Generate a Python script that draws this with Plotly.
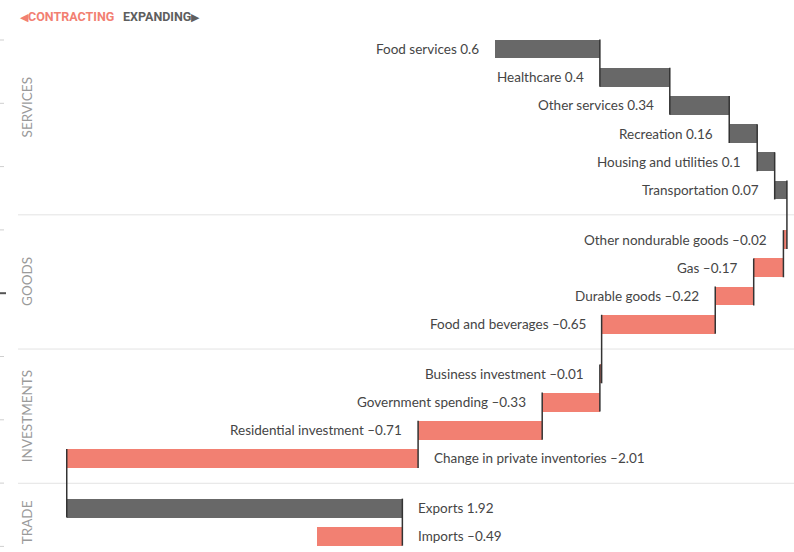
import plotly.graph_objects as go

# ---------------- data ----------------
categories = [
    "Food services", "Healthcare", "Other services", "Recreation",
    "Housing and utilities", "Transportation",
    "Other nondurable goods", "Gas", "Durable goods", "Food and beverages",
    "Business investment", "Government spending", "Residential investment",
    "Change in private inventories",
    "Exports", "Imports",
]
values = [0.6, 0.4, 0.34, 0.16, 0.1, 0.07,
          -0.02, -0.17, -0.22, -0.65,
          -0.01, -0.33, -0.71, -2.01,
          1.92, -0.49]
groups = ["SERVICES"] * 6 + ["GOODS"] * 4 + ["INVESTMENTS"] * 4 + ["TRADE"] * 2
label_side = ["left"] * 13 + ["right"] * 3
group_names = ["SERVICES", "GOODS", "INVESTMENTS", "TRADE"]

# ---------------- style ----------------
POS_COLOR = "#686868"
NEG_COLOR = "#f28072"
CONN_COLOR = "#333333"
TEXT_COLOR = "#454545"
GROUP_COLOR = "#9a9a9a"
SEP_COLOR = "#e3e3e3"
FONT = "Lato"
W, H = 794, 552
ROW_PX = 28.2
TOP_ROW_PX = 49
GAP = 1.76
BAR_W = 0.67
X0_PX = 495
X_SCALE = 174.8

# positions along y (row units) with gaps between groups
pos = []
p = 0.0
for i, g in enumerate(groups):
    if i > 0:
        p += GAP if g != groups[i - 1] else 1.0
    pos.append(p)

# cumulative bases
bases, ends = [], []
c = 0.0
for v in values:
    bases.append(c)
    c += v
    ends.append(c)

def fmt(v):
    s = f"{abs(v):g}"
    return ("–" + s) if v < 0 else s

colors = [POS_COLOR if v > 0 else NEG_COLOR for v in values]

fig = go.Figure()
fig.add_trace(go.Bar(
    y=pos, x=values, base=bases, orientation="h", width=BAR_W,
    marker=dict(color=colors, line=dict(width=0)),
    hoverinfo="skip", showlegend=False,
))

shapes = []
annotations = []

# connectors
for i in range(len(values) - 1):
    shapes.append(dict(
        type="line", xref="x", yref="y",
        x0=ends[i], x1=ends[i],
        y0=pos[i] - BAR_W / 2, y1=pos[i + 1] + BAR_W / 2,
        line=dict(color=CONN_COLOR, width=1.5), layer="above",
    ))

# labels
for i, (cat, v) in enumerate(zip(categories, values)):
    lo, hi = min(bases[i], ends[i]), max(bases[i], ends[i])
    if label_side[i] == "left":
        annotations.append(dict(x=lo, y=pos[i], xref="x", yref="y",
                                text=f"{cat} {fmt(v)}", showarrow=False,
                                xanchor="right", yanchor="middle", xshift=-14,
                                font=dict(family=FONT, size=13.5, color=TEXT_COLOR)))
    else:
        annotations.append(dict(x=hi, y=pos[i], xref="x", yref="y",
                                text=f"{cat} {fmt(v)}", showarrow=False,
                                xanchor="left", yanchor="middle", xshift=14,
                                font=dict(family=FONT, size=13.5, color=TEXT_COLOR)))

# y range
y_top = -TOP_ROW_PX / ROW_PX
y_bot = (H - TOP_ROW_PX) / ROW_PX

# separators and group labels
seps = []
for i in range(1, len(groups)):
    if groups[i] != groups[i - 1]:
        seps.append((pos[i - 1] + pos[i]) / 2)
for s in seps:
    shapes.append(dict(type="line", xref="paper", yref="y",
                       x0=18 / W, x1=1, y0=s, y1=s,
                       line=dict(color=SEP_COLOR, width=1), layer="below"))
bounds = [y_top] + seps + [pos[-1] + GAP / 2]
for k, g in enumerate(group_names):
    annotations.append(dict(x=27 / W, y=(bounds[k] + bounds[k + 1]) / 2,
                            xref="paper", yref="y", text=g, textangle=-90,
                            showarrow=False, xanchor="center", yanchor="middle",
                            font=dict(family=FONT, size=13.5, color=GROUP_COLOR)))

# legend header
annotations.append(dict(x=18 / W, y=1 - 16 / H, xref="paper", yref="paper",
                        text="<span style='font-size:11px'>◀</span><b>CONTRACTING</b>",
                        showarrow=False, xanchor="left", yanchor="middle",
                        font=dict(family="Roboto", size=12.5, color=NEG_COLOR)))
annotations.append(dict(x=121 / W, y=1 - 16 / H, xref="paper", yref="paper",
                        text="<b>EXPANDING</b><span style='font-size:11px'>▶</span>",
                        showarrow=False, xanchor="left", yanchor="middle",
                        font=dict(family="Roboto", size=12.5, color="#5e5e5e")))

# small artifacts at the left edge (neighbouring page element)
for k in range(9):
    py = 40 + 63.3 * k
    shapes.append(dict(type="line", xref="paper", yref="paper",
                       x0=0, x1=(6 if k == 4 else 4) / W,
                       y0=1 - py / H, y1=1 - py / H,
                       line=dict(color="#555" if k == 4 else "#cfcfcf",
                                 width=2 if k == 4 else 1)))

fig.update_layout(
    width=W, height=H,
    margin=dict(l=0, r=0, t=0, b=0),
    paper_bgcolor="white", plot_bgcolor="white",
    xaxis=dict(range=[-X0_PX / X_SCALE, (W - X0_PX) / X_SCALE],
               visible=False, fixedrange=True),
    yaxis=dict(range=[y_bot, y_top], visible=False, fixedrange=True),
    shapes=shapes, annotations=annotations,
    bargap=0, showlegend=False,
)

fig.write_html("out.html")
